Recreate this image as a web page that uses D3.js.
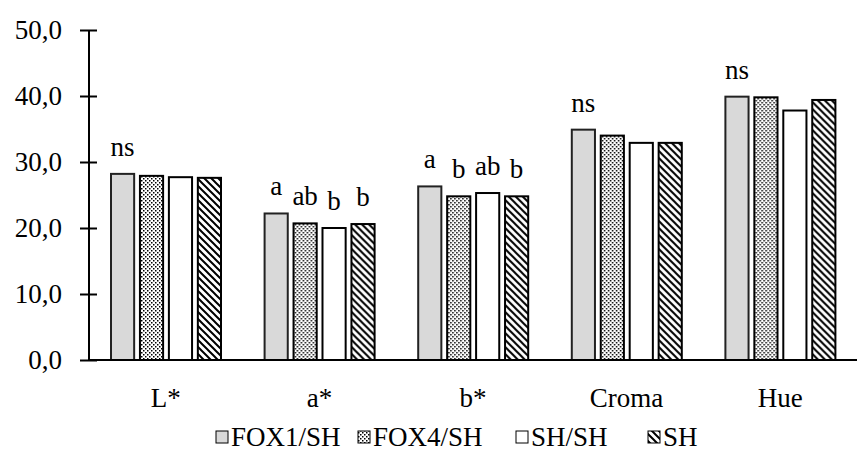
<!DOCTYPE html>
<html>
<head>
<meta charset="utf-8">
<script src="https://cdn.jsdelivr.net/npm/d3@7/dist/d3.min.js"></script>
<style>
  svg text { font-family: "Liberation Serif", serif !important; }
</style>
</head>
<body style="margin:0">
<svg id="fig" width="860" height="463" font-family="Liberation Serif" style="font-family: 'Liberation Serif'"></svg>
<script>
// Colour parameters, one value per treatment and parameter
const categories = ["L*", "a*", "b*", "Croma", "Hue"];
const series = ["FOX1/SH", "FOX4/SH", "SH/SH", "SH"];
const fox1sh = [28.2, 22.2, 26.3, 34.9, 39.9];
const fox4sh = [27.9, 20.7, 24.8, 34.0, 39.8];
const shsh   = [27.7, 20.0, 25.3, 32.9, 37.8];
const sh     = [27.6, 20.6, 24.8, 32.9, 39.4];
// Significance letters above each bar (empty = none)
const letters = [
  ["ns", "", "", ""],
  ["a", "ab", "b", "b"],
  ["a", "b", "ab", "b"],
  ["ns", "", "", ""],
  ["ns", "", "", ""]
];
const yTicks = [0, 10, 20, 30, 40, 50];

const values = [fox1sh, fox4sh, shsh, sh];
const FONT = "Liberation Serif";
const FS = 27;

const svg = d3.select("#fig");
const defs = svg.append("defs");

// Dotted fill
const dots = defs.append("pattern").attr("id", "dots")
  .attr("patternUnits", "userSpaceOnUse").attr("width", 4).attr("height", 4);
dots.append("rect").attr("width", 4).attr("height", 4).attr("fill", "#fff");
dots.append("rect").attr("x", 0).attr("y", 0).attr("width", 1.5).attr("height", 1.5).attr("fill", "#000");
dots.append("rect").attr("x", 2).attr("y", 2).attr("width", 1.5).attr("height", 1.5).attr("fill", "#000");

// Wide downward diagonal fill
const hatch = defs.append("pattern").attr("id", "hatch")
  .attr("patternUnits", "userSpaceOnUse").attr("width", 7).attr("height", 7);
hatch.append("rect").attr("width", 7).attr("height", 7).attr("fill", "#fff");
hatch.append("path").attr("d", "M-1,-1 L8,8 M-8,-1 L1,8 M6,-1 L15,8")
  .attr("stroke", "#000").attr("stroke-width", 2);

const fills = ["#d9d9d9", "url(#dots)", "#fff", "url(#hatch)"];
const strokes = ["#222", "#000", "#000", "#000"];

const x0 = d3.scaleBand().domain(categories).range([89, 857]);
const x1 = d3.scaleBand().domain(series).range([22, 132]).paddingInner(0.2);
const y = d3.scaleLinear().domain([0, 50]).range([360, 30]);

function serif(sel) {
  return sel.attr("font-family", FONT).style("font-family", FONT).style("font-size", FS + "px");
}

// Y axis with crossing ticks
const yAxis = svg.append("g").attr("transform", "translate(89,0)")
  .call(d3.axisLeft(y).tickValues(yTicks).tickSize(8)
    .tickFormat(d => d3.format(".1f")(d).replace(".", ",")));
yAxis.attr("font-family", FONT).attr("font-size", FS);
yAxis.select(".domain").attr("stroke", "#000").attr("stroke-width", 2)
  .attr("d", `M0,${y(50)}V${y(0)}`);
yAxis.selectAll(".tick line").attr("x1", -9).attr("x2", 8).attr("stroke-width", 2);
serif(yAxis.selectAll(".tick text").attr("x", -27).attr("fill", "#000"));

// Bars
const groups = svg.append("g").selectAll("g").data(categories).join("g")
  .attr("transform", c => `translate(${x0(c)},0)`);

groups.selectAll("rect")
  .data((c, ci) => series.map((s, si) => ({ s, si, v: values[si][ci] })))
  .join("rect")
  .attr("x", d => x1(d.s))
  .attr("y", d => y(d.v))
  .attr("width", x1.bandwidth())
  .attr("height", d => y(0) - y(d.v))
  .attr("fill", d => fills[d.si])
  .attr("stroke", d => strokes[d.si])
  .attr("stroke-width", 2);

// Letters
serif(groups.selectAll("text.lab")
  .data((c, ci) => series.map((s, si) => ({ s, si, v: values[si][ci], t: letters[ci][si] })))
  .join("text").attr("class", "lab")
  .attr("x", d => x1(d.s) + x1.bandwidth() / 2)
  .attr("y", d => y(d.v) - 18)
  .attr("text-anchor", "middle"))
  .text(d => d.t);

// X axis baseline
svg.append("line").attr("x1", 89).attr("x2", 857).attr("y1", y(0)).attr("y2", y(0))
  .attr("stroke", "#000").attr("stroke-width", 2);

// Category labels
serif(svg.append("g").selectAll("text").data(categories).join("text")
  .attr("x", c => x0(c) + x0.bandwidth() / 2)
  .attr("y", 407)
  .attr("text-anchor", "middle"))
  .text(c => c);

// Legend: swatch + name per series
const legendX = d3.scaleOrdinal().domain(series).range([216, 358, 516, 648]);
const items = svg.append("g").selectAll("g").data(series).join("g")
  .attr("transform", s => `translate(${legendX(s)},0)`);
items.append("rect").attr("x", 0).attr("y", 431).attr("width", 12).attr("height", 12)
  .attr("fill", (s, i) => fills[i]).attr("stroke", "#000").attr("stroke-width", 1);
serif(items.append("text").attr("x", 15).attr("y", 446)).text(s => s);
</script>
</body>
</html>
